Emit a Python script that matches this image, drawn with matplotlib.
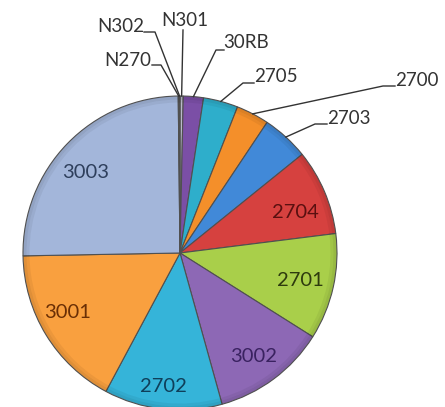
import numpy as np
import matplotlib.pyplot as plt
from matplotlib.patches import Wedge

# slice labels and shares (%), clockwise from 12 o'clock
labels = ["N301", "30RB", "2705", "2700", "2703", "2704", "2701",
          "3002", "2702", "3001", "3003", "N270", "N302"]
values = [0.33, 2.07, 3.57, 3.39, 4.83, 8.83, 10.94,
          11.72, 12.14, 16.89, 25.11, 0.09, 0.09]
colors = ["#b9b9c9", "#7b4fa6", "#2eaecb", "#f48f2a", "#4189d8", "#d6413f", "#a9cf4a",
          "#8d68b5", "#35b4d9", "#f9a03f", "#a3b6da", "#d5dcec", "#c8d2e6"]

# labels printed inside the pie, with their text colours
inside = {"3003": "#2e3f5c", "2704": "#5a1010", "2701": "#2e3b0e",
          "3002": "#3a2260", "2702": "#0f3f5a", "3001": "#6a2f05"}

fig = plt.figure(figsize=(4.45, 4.07), dpi=100)
ax = fig.add_axes([0, 0, 1, 1])

H = 407
cx, cy, R = 180, H - 253, 157

wedges, _ = ax.pie(values, colors=colors, startangle=90, counterclock=False,
                   center=(cx, cy), radius=R,
                   wedgeprops=dict(edgecolor="#505050", linewidth=0.8))

# soft darker rim along the outside of every slice
for w in wedges:
    ax.add_patch(Wedge((cx, cy), R - 0.5, w.theta1, w.theta2, width=3,
                       facecolor="black", alpha=0.10, lw=0))
    ax.add_patch(Wedge((cx, cy), R - 3.5, w.theta1, w.theta2, width=3,
                       facecolor="black", alpha=0.05, lw=0))

# positions of the inside labels (pixels from top-left)
inside_pos = {"3003": (86, 173), "2704": (295, 212), "2701": (300, 281),
              "3002": (254, 356), "2702": (163, 386), "3001": (68, 313)}

# outside labels: text centre, elbow of the leader, end of the stub by the text
outside_pos = {
    "N302": ((121, 27), (155, 32), 144),
    "N301": ((185, 20), (183, 30), None),
    "N270": ((128, 60), (161, 65), 152),
    "30RB": ((246, 43), (216, 50), 224),
    "2705": ((276, 77), (243, 83), 254),
    "2700": ((417, 80), (383, 86), 395),
    "2703": ((349, 118), (315, 124), 327),
}

font = "Lato"

for w, lab in zip(wedges, labels):
    if lab in inside:
        x, y = inside_pos[lab]
        ax.text(x, H - y, lab, ha="center", va="center", fontsize=14.5,
                color=inside[lab], family=font)
    elif lab in outside_pos:
        (tx, ty), (ex, ey), stub = outside_pos[lab]
        mid = np.deg2rad((w.theta1 + w.theta2) / 2)
        px = cx + R * np.cos(mid)
        py = cy + R * np.sin(mid)
        if stub is None:
            ax.plot([ex, px], [H - ey, py], color="#333333", lw=1)
        else:
            ax.plot([stub, ex, px], [H - ey, H - ey, py], color="#333333", lw=1)
        ax.text(tx, H - ty, lab, ha="center", va="center", fontsize=13.5,
                color="#333333", family=font)

ax.set_xlim(0, 445)
ax.set_ylim(0, H)
ax.axis("off")

fig.savefig("out.png", dpi=100, facecolor="white")
